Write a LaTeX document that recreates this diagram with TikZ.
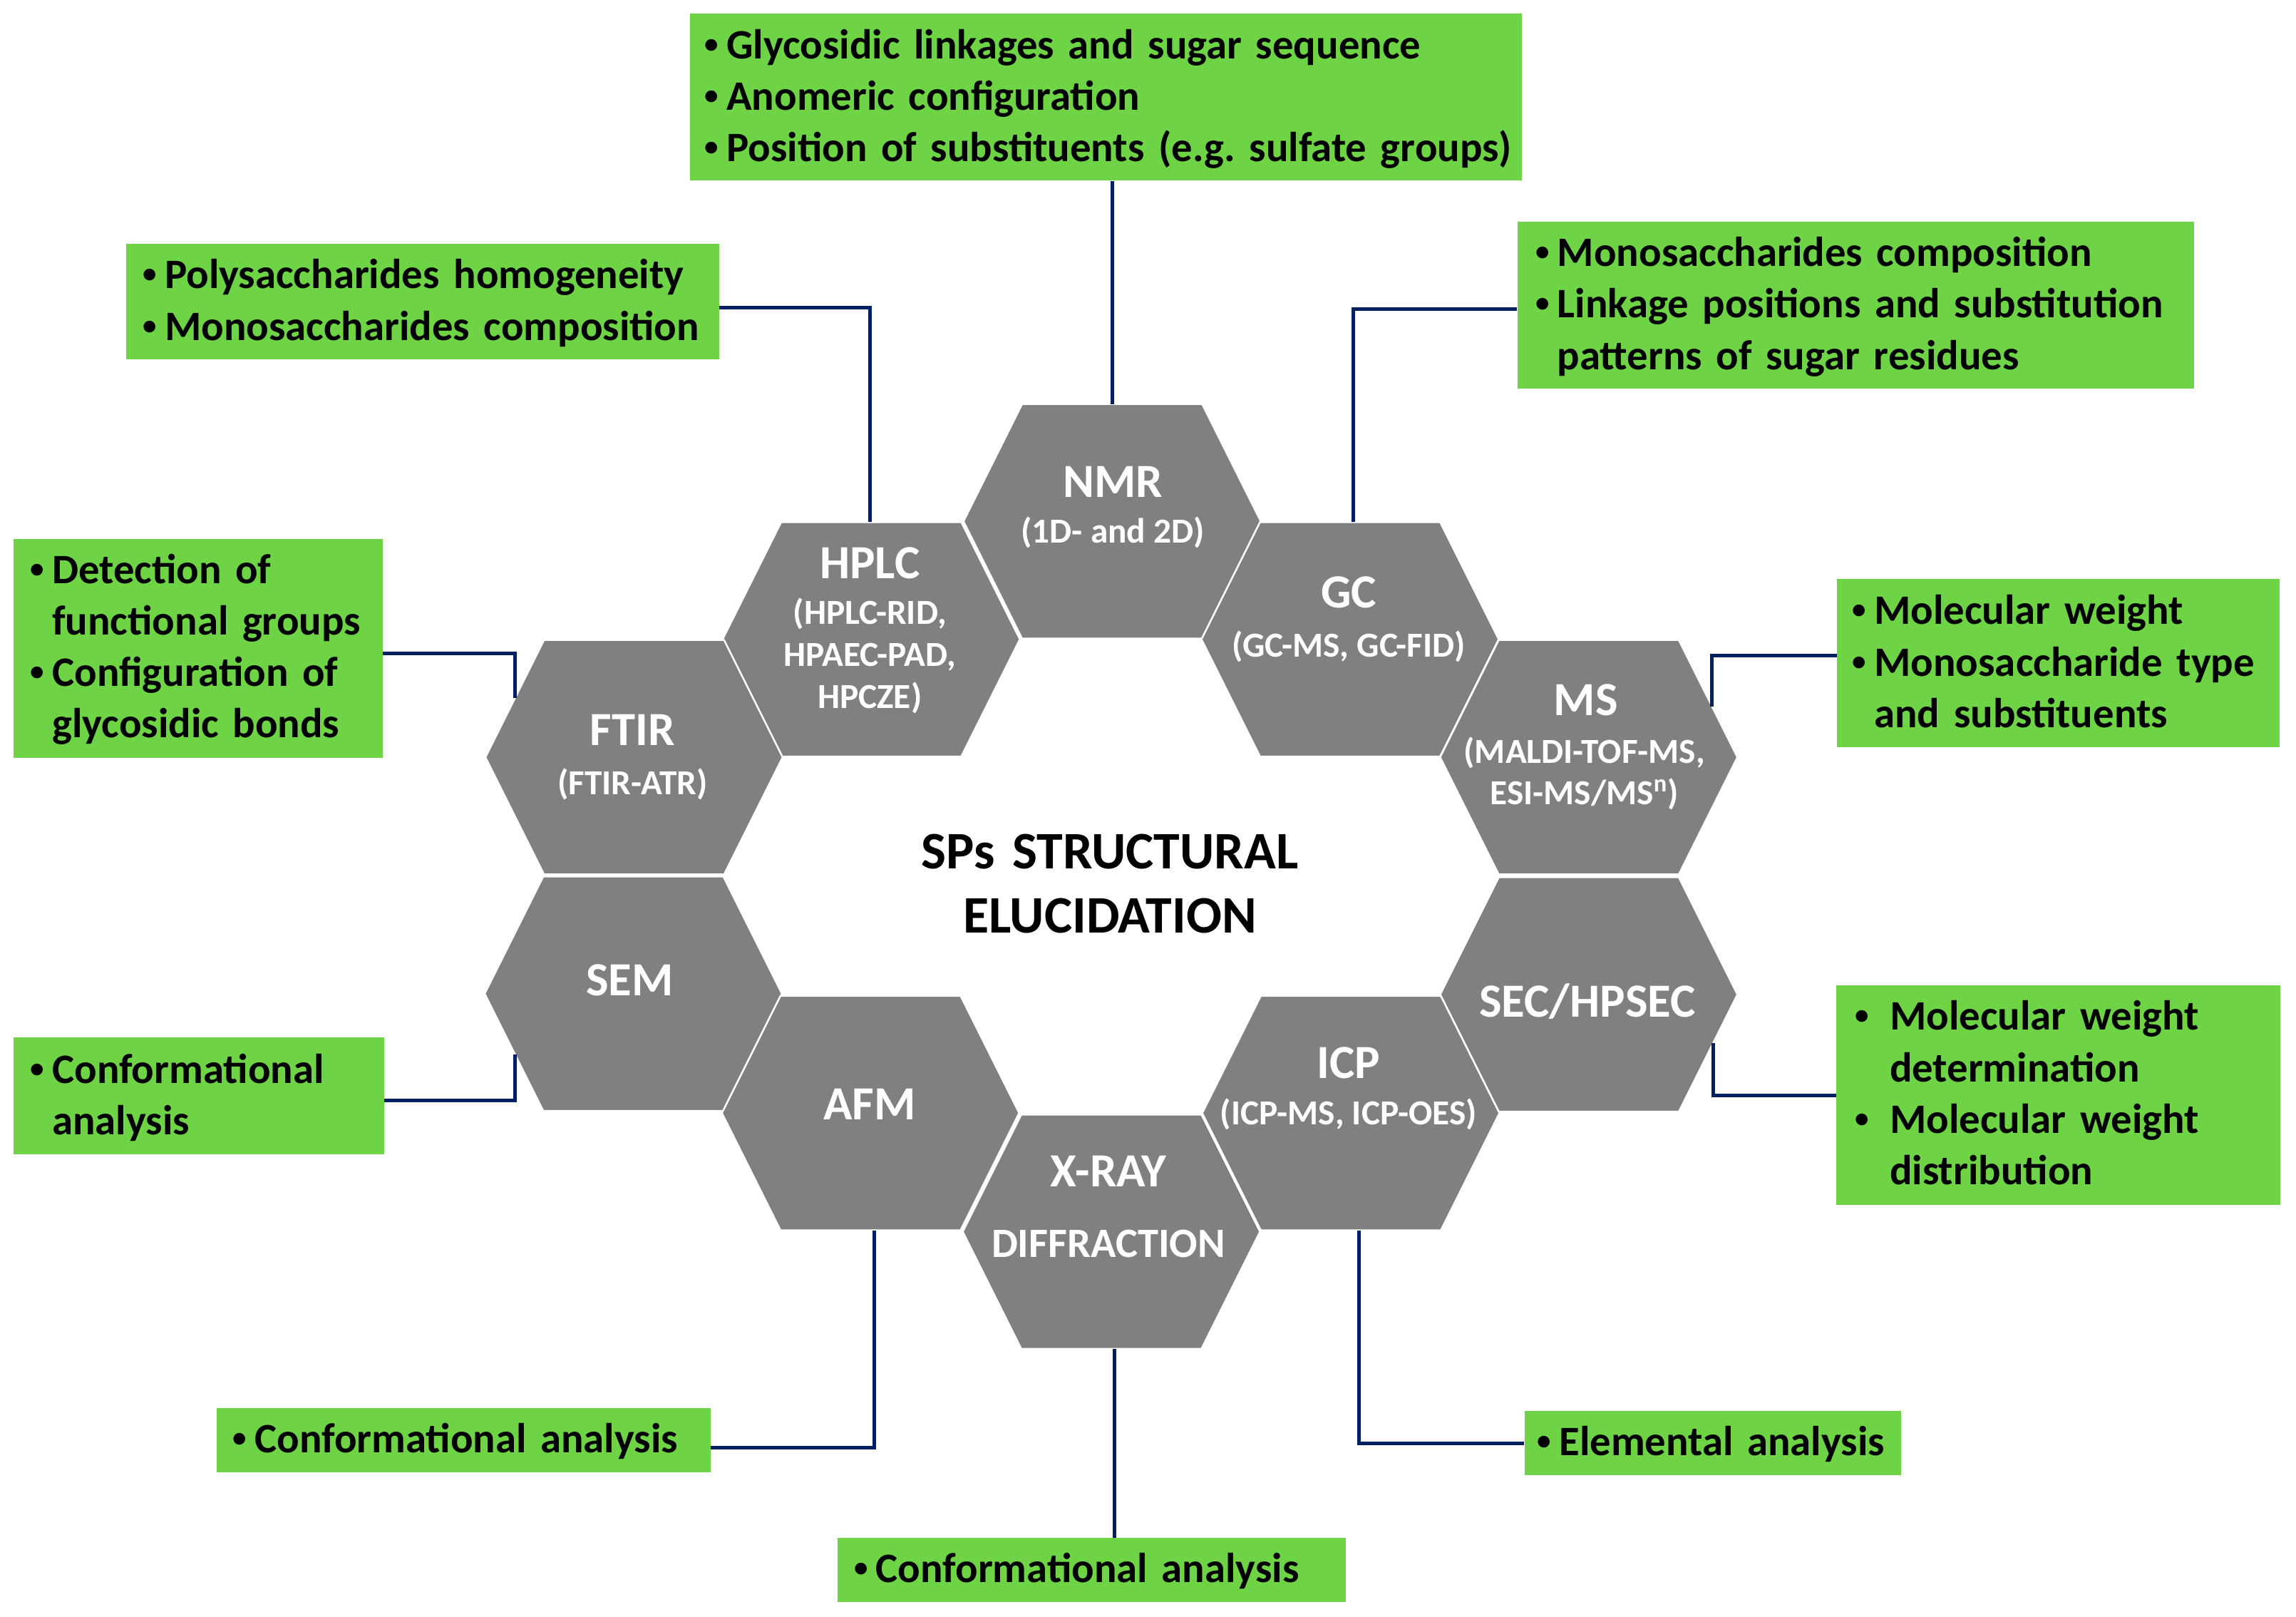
\documentclass[tikz,border=0pt]{standalone}
\usepackage{fontspec}
\setmainfont{Carlito}
\usetikzlibrary{calc}
\definecolor{hexgray}{RGB}{128,128,128}
\definecolor{boxgreen}{RGB}{110,212,70}
\definecolor{navyline}{RGB}{0,32,96}
\newcommand\bdot{\raisebox{3.8pt}{\fontsize{19}{19}\selectfont\textbullet}}
\newcommand\bl{\makebox[15pt][l]{\bdot}}
\newcommand\blind{\hspace*{15pt}}
\newcommand\blw{\makebox[23.7pt][l]{\bdot}}
\newcommand\blwind{\hspace*{23.7pt}}
\newcommand\hexa[3]{%
  \node[hexnode] (#1) at (#2,#3) {};
  \path[hexshape, shift={(#2,#3)}] (-101.5,0) -- (-61.5,-80) -- (61.5,-80) -- (101.5,0) -- (61.5,80) -- (-61.5,80) -- cycle;
}
\frenchspacing
\begin{document}
\begin{tikzpicture}[x=1pt,y=-1pt,
  hexnode/.style={minimum width=203pt, minimum height=160pt, inner sep=0pt, draw=none},
  hexshape/.style={fill=hexgray, draw=white, line width=1.2pt},
  htitle/.style={text=white, font=\bfseries\fontsize{32.5}{36}\selectfont, inner sep=0pt, anchor=base},
  hsub/.style={text=white, font=\bfseries\fontsize{24}{28.5}\selectfont, inner sep=0pt, anchor=base},
  gbox/.style={fill=boxgreen, draw=none, inner sep=0pt, anchor=north west},
  gtext/.style={font=\bfseries\fontsize{28.6}{35.2}\selectfont, inner sep=0pt, anchor=base west, align=left, text width=800pt},
  conn/.style={draw=navyline, line width=2.4pt},
]
\fill[white] (0,0) rectangle (1568,1104);
\useasboundingbox (0,0) rectangle (1568,1104);

% hexagons
\hexa{nmr}{759.5}{356}
\hexa{hplc}{595}{436.5}
\hexa{gc}{922}{436.5}
\hexa{ftir}{433}{517}
\hexa{ms}{1085}{517}
\hexa{sem}{432.5}{678.5}
\hexa{sec}{1085}{679}
\hexa{afm}{594.5}{760}
\hexa{icp}{922.5}{760}
\hexa{xray}{759}{841}

% hexagon texts
\node[htitle] (nmrT) at (760,339.3) {NMR};
\node[hsub] (nmrS) at (760,370.8) {(1D- and 2D)};
\node[htitle] (hplcT) at (594,394.8) {HPLC};
\node[hsub, text width=200pt, align=center] (hplcS) at (594,426.4) {(HPLC-RID,\\HPAEC-PAD,\\HPCZE)};
\node[htitle] (gcT) at (921,414.8) {GC};
\node[hsub] (gcS) at (921,448.4) {(GC-MS, GC-FID)};
\node[htitle] (ftirT) at (432,509) {FTIR};
\node[hsub] (ftirS) at (432,542.6) {(FTIR-ATR)};
\node[htitle] (msT) at (1083,488.7) {MS};
\node[hsub, text width=200pt, align=center] (msS) at (1082,520.9) {(MALDI-TOF-MS,\\ESI-MS/MS\textsuperscript{n})};
\node[htitle] (semT) at (430,679.8) {SEM};
\node[htitle] (secT) at (1084,694.3) {SEC/HPSEC};
\node[htitle] (afmT) at (594,764.5) {AFM};
\node[htitle] (icpT) at (921,736.3) {ICP};
\node[hsub] (icpS) at (921,767.7) {(ICP-MS, ICP-OES)};
\node[htitle] (xrayT) at (757,810.5) {X-RAY};
\node[htitle, font=\bfseries\fontsize{28.5}{32}\selectfont] (xrayS) at (757,858.4) {DIFFRACTION};

% central title
\node[font=\bfseries\fontsize{36}{43.4}\selectfont, text width=400pt, align=center, anchor=base, inner sep=0pt] (title) at (758,593.4) {SPs STRUCTURAL\\ELUCIDATION};

% green boxes
\node[gbox, minimum width=568pt, minimum height=114pt] (nmrbox) at (471,9) {};
\node[gtext] (nmrtxt) at (481,40) {\bl Glycosidic linkages and sugar sequence\\\bl Anomeric configuration\\\bl Position of substituents (e.g. sulfate groups)};

\node[gbox, minimum width=405pt, minimum height=78.5pt] (hplcbox) at (86,166.4) {};
\node[gtext] (hplctxt) at (97.3,197) {\bl Polysaccharides homogeneity\\\bl Monosaccharides composition};

\node[gbox, minimum width=462pt, minimum height=114pt] (gcbox) at (1036,151) {};
\node[gtext] (gctxt) at (1048.4,181.8) {\bl Monosaccharides composition\\\bl Linkage positions and substitution\\\blind patterns of sugar residues};

\node[gbox, minimum width=252pt, minimum height=149.5pt] (ftirbox) at (9,368) {};
\node[gtext] (ftirtxt) at (20.5,398.2) {\bl Detection of\\\blind functional groups\\\bl Configuration of\\\blind glycosidic bonds};

\node[gbox, minimum width=302pt, minimum height=115pt] (msbox) at (1254.5,395) {};
\node[gtext] (mstxt) at (1264.8,426.3) {\bl Molecular weight\\\bl Monosaccharide type\\\blind and substituents};

\node[gbox, minimum width=253pt, minimum height=80pt] (sembox) at (9,708) {};
\node[gtext] (semtxt) at (20.5,739.6) {\bl Conformational\\\blind analysis};

\node[gbox, minimum width=337.5pt, minimum height=43.7pt] (afmbox) at (147.6,961.3) {};
\node[gtext] (afmtxt) at (158.8,991.7) {\bl Conformational analysis};

\node[gbox, minimum width=347pt, minimum height=43.5pt] (xraybox) at (572,1050) {};
\node[gtext] (xraytxt) at (583,1080.4) {\bl Conformational analysis};

\node[gbox, minimum width=257.3pt, minimum height=43.8pt] (icpbox) at (1041,963.2) {};
\node[gtext] (icptxt) at (1049.6,993.9) {\bl Elemental analysis};

\node[gbox, minimum width=303pt, minimum height=150pt] (secbox) at (1254,672.6) {};
\node[gtext] (sectxt) at (1266.7,703.3) {\blw Molecular weight\\\blwind determination\\\blw Molecular weight\\\blwind distribution};

% connector end points on hexagon edges
\coordinate (ftirC) at ($(ftir)+(-81.2,-40.6)$);
\coordinate (semC) at ($(sem)+(-80.7,41.6)$);
\coordinate (msC) at ($(ms)+(84.2,-34.6)$);
\coordinate (secC) at ($(sec)+(84.8,33.4)$);

% connectors
\draw[conn] (nmr.north |- nmrbox.south) -- (nmr.north);
\draw[conn] ([yshift=-4pt]hplcbox.east) -| ([xshift=-1pt]hplc.north);
\draw[conn] ([yshift=-3pt]gcbox.west) -| ([xshift=2pt]gc.north);
\draw[conn] ([yshift=-3pt]ftirbox.east) -| (ftirC);
\draw[conn] ([yshift=5pt]msbox.west) -| (msC);
\draw[conn] ([yshift=-3pt]sembox.east) -| (semC);
\draw[conn] ([yshift=-5pt]afmbox.east) -| ([xshift=2.5pt]afm.south);
\draw[conn] ([xshift=2pt]xray.south) -- ([xshift=2pt]xray.south |- xraybox.north);
\draw[conn] ([xshift=5.5pt]icp.south) |- (icpbox.west);
\draw[conn] (secbox.west) -| (secC);
\end{tikzpicture}
\end{document}
